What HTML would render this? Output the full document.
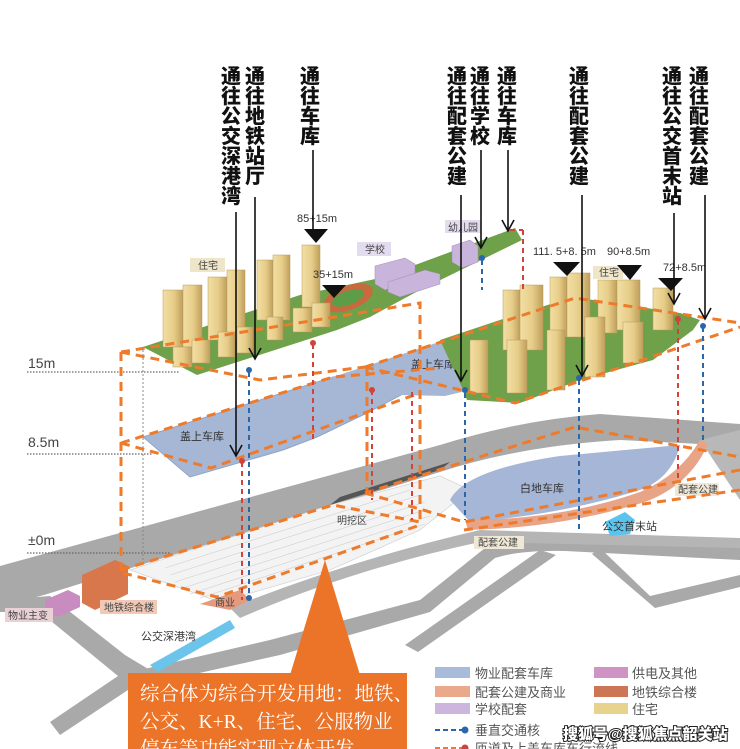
<!DOCTYPE html>
<html><head><meta charset="utf-8"><style>
html,body{margin:0;padding:0;background:#fff;}
svg{display:block;}
.v{font-family:"Liberation Sans","Noto Sans CJK SC",sans-serif;font-weight:900;font-size:20px;fill:#111;}
.s{font-family:"Liberation Sans","Noto Sans CJK SC",sans-serif;font-size:10px;fill:#444;}
.n{font-family:"Liberation Sans","Noto Sans CJK SC",sans-serif;font-size:11px;fill:#333;}
.lg{font-family:"Liberation Sans","Noto Sans CJK SC",sans-serif;font-size:13px;fill:#555;}
.od{stroke:#ee7a2a;stroke-width:3;stroke-dasharray:9 6;fill:none;}
.rd{stroke:#d0423a;stroke-width:2;stroke-dasharray:5 4;fill:none;}
.bd{stroke:#2a66a8;stroke-width:2;stroke-dasharray:5 4;fill:none;}
.ar{stroke:#111;stroke-width:1.6;fill:none;}
.t rect{fill:url(#tw);stroke:#b8985a;stroke-width:.5;}
</style></head><body>
<svg width="740" height="749" viewBox="0 0 740 749" xmlns="http://www.w3.org/2000/svg">
<defs>
<linearGradient id="tw" x1="0" x2="1" y1="0" y2="0"><stop offset="0" stop-color="#f2dfa4"/><stop offset=".55" stop-color="#e6cc88"/><stop offset="1" stop-color="#bf9f5c"/></linearGradient>
</defs>
<rect width="740" height="749" fill="#fff"/>

<!-- roads -->
<path d="M0,566 L440,445 Q520,420 600,414 L740,424 L740,446 L620,440 Q520,446 440,472 L60,590 Q30,600 0,605 Z" fill="#a9a9a9"/>
<path d="M0,600 L50,596 L125,655 L150,670 L140,682 L60,735 L50,722 L118,676 L40,612 L0,612 Z" fill="#a9a9a9"/>
<path d="M140,670 L270,640 L420,600 L485,548 Q520,535 560,536 L740,545 L740,560 L565,551 Q520,550 495,558 L430,612 L280,655 L150,684 Z" fill="#a9a9a9"/>
<path d="M230,608 Q350,560 480,530 L740,538 L740,548 L480,542 Q350,570 240,618 Z" fill="#b5b5b5"/>
<path d="M405,645 L540,550 L556,555 L418,652 Z" fill="#a9a9a9"/>
<path d="M600,548 L650,596 L740,575 L740,587 L655,608 L592,554 Z" fill="#a9a9a9"/>
<path d="M700,440 L740,430 L740,500 L720,470 Z" fill="#b8b8b8"/>

<!-- rail yard -->
<path d="M130,570 L330,505 L440,476 L470,490 L420,530 L330,570 L220,602 Z" fill="#f3f3f3" stroke="#ccc" stroke-width=".6"/>
<g stroke="#cfcfcf" stroke-width=".6">
<line x1="170" y1="575" x2="420" y2="495"/><line x1="175" y1="582" x2="425" y2="502"/><line x1="180" y1="589" x2="428" y2="509"/><line x1="190" y1="594" x2="430" y2="516"/><line x1="200" y1="598" x2="425" y2="524"/><line x1="165" y1="568" x2="410" y2="490"/>
</g>
<text class="s" x="337" y="524">明挖区</text>
<path d="M330,505 L440,470 L450,462 L340,497 Z" fill="#555"/>

<!-- left buildings -->
<path d="M82,575 L115,560 L128,566 L128,594 L95,610 L82,603 Z" fill="#d8774c"/>
<path d="M45,600 L68,590 L80,596 L80,607 L58,617 L45,611 Z" fill="#c98cc0"/>
<rect x="5" y="608" width="48" height="14" fill="#e9d1d6"/><text class="s" x="8" y="619">物业主变</text>
<rect x="100" y="600" width="57" height="14" fill="#f1c9b6"/><text class="s" x="104" y="611">地铁综合楼</text>
<path d="M200,604 L240,590 L250,600 L230,610 Z" fill="#e59a7d"/><text class="s" x="215" y="606">商业</text>
<path d="M150,665 L230,620 L235,628 L158,672 Z" fill="#6cc4ea"/>
<text class="n" x="141" y="640">公交深港湾</text>

<!-- right lower ground -->
<path d="M450,500 Q465,470 560,456 L680,445 Q672,478 640,490 Q560,515 470,522 Z" fill="#a5b6d6"/>
<path d="M465,520 Q560,520 640,492 Q680,475 700,440 L708,444 Q690,485 645,502 Q560,528 468,530 Z" fill="#e8a487"/>
<text class="n" x="520" y="492">白地车库</text>
<path d="M605,522 L625,512 L635,520 L630,534 L610,536 Z" fill="#5bc4ee"/>
<text class="n" x="602" y="530">公交首末站</text>
<rect x="474" y="536" width="50" height="13" fill="#efe8d6"/><text class="s" x="478" y="546">配套公建</text>
<rect x="675" y="483" width="44" height="13" fill="#efe8d6"/><text class="s" x="678" y="493">配套公建</text>

<!-- 8.5m left blue -->
<path d="M143,437 L333,377 L440,363 L420,385 L367,413 L317,437 L283,450 L190,477 Z" fill="#a6b7d6" stroke="#8fa5c8" stroke-width="1"/>
<text class="n" x="180" y="440">盖上车库</text>
<path d="M330,378 L430,345 L490,325 L470,390 L445,396 L400,395 L370,403 Z" fill="#a6b7d6"/>
<text class="n" x="411" y="368">盖上车库</text>

<!-- left green deck -->
<path d="M143,347 L300,295 L380,278 L515,228 L522,240 L420,290 L370,317 L337,330 L250,358 L197,375 Z" fill="#6fa04a"/>
<ellipse cx="348" cy="298" rx="26" ry="12" fill="#c96a3e" transform="rotate(-20 348 298)"/>
<ellipse cx="348" cy="298" rx="17" ry="7" fill="#5d9d47" transform="rotate(-20 348 298)"/>
<g fill="#c9b4dc" stroke="#9f8bb6" stroke-width=".5">
<path d="M375,266 L405,258 L415,264 L415,280 L385,290 L375,284 Z"/>
<path d="M388,282 L425,270 L440,274 L440,284 L400,297 L388,292 Z"/>
<path d="M452,246 L470,240 L478,246 L478,262 L462,268 L452,262 Z"/>
</g>
<rect x="357" y="242" width="34" height="14" fill="#e3dcef"/><text class="s" x="365" y="253">学校</text>
<rect x="445" y="220" width="36" height="13" fill="#e3dcef"/><text class="s" x="448" y="231">幼儿园</text>

<g class="t">
<rect x="163" y="290" width="20" height="57"/><rect x="183" y="285" width="19" height="62"/>
<rect x="208" y="277" width="19" height="63"/><rect x="227" y="270" width="18" height="70"/>
<rect x="257" y="260" width="16" height="60"/><rect x="273" y="255" width="17" height="65"/>
<rect x="302" y="245" width="18" height="62"/>
<rect x="173" y="347" width="19" height="20"/><rect x="192" y="340" width="18" height="23"/>
<rect x="218" y="332" width="17" height="25"/><rect x="237" y="327" width="16" height="26"/>
<rect x="267" y="317" width="16" height="23"/><rect x="293" y="308" width="19" height="24"/><rect x="312" y="303" width="18" height="24"/>
</g>
<rect x="190" y="258" width="35" height="14" fill="#efe5c9"/><text class="s" x="198" y="269">住宅</text>

<path d="M440,340 L500,320 L573,297 L680,313 L700,320 L693,330 L653,360 L580,380 L520,403 L467,400 L460,383 Z" fill="#6fa04a"/>
<g class="t">
<rect x="503" y="290" width="17" height="60"/><rect x="520" y="285" width="23" height="65"/>
<rect x="550" y="277" width="17" height="60"/><rect x="567" y="273" width="23" height="64"/>
<rect x="598" y="280" width="19" height="53"/><rect x="617" y="280" width="23" height="50"/>
<rect x="653" y="288" width="20" height="42"/>
<rect x="470" y="340" width="18" height="53"/><rect x="507" y="340" width="20" height="53"/>
<rect x="547" y="330" width="18" height="60"/><rect x="585" y="317" width="20" height="60"/><rect x="623" y="322" width="20" height="41"/>
</g>
<rect x="593" y="266" width="30" height="13" fill="#efe5c9"/><text class="s" x="599" y="276">住宅</text>

<text class="n" x="297" y="222">85+15m</text>
<text class="n" x="313" y="278">35+15m</text>
<text class="n" x="533" y="255">111. 5+8. 5m</text>
<text class="n" x="607" y="255">90+8.5m</text>
<text class="n" x="663" y="271">72+8.5m</text>
<path d="M304,229 L328,229 L316,243 Z" fill="#111"/>
<path d="M322,285 L346,285 L334,298 Z" fill="#111"/>
<path d="M553,262 L580,262 L567,276 Z" fill="#111"/>
<path d="M617,265 L642,265 L630,280 Z" fill="#111"/>
<path d="M658,278 L683,278 L671,291 Z" fill="#111"/>

<g font-family="Liberation Sans, sans-serif" font-size="14" fill="#444">
<text x="28" y="368">15m</text><text x="28" y="447">8.5m</text><text x="28" y="545">±0m</text></g>
<g stroke="#666" stroke-width="1.2" stroke-dasharray="1.5 1.5">
<line x1="27" y1="372" x2="180" y2="372"/><line x1="27" y1="454" x2="152" y2="454"/><line x1="27" y1="553" x2="170" y2="553"/></g>
<line x1="143" y1="350" x2="143" y2="560" stroke="#888" stroke-dasharray="2 2"/>

<g class="od">
<line x1="121" y1="352" x2="121" y2="578"/>
<path d="M121,352 L420,303 L420,525"/>
<path d="M121,352 L260,380 L365,367"/>
<path d="M121,443 L211,468 L420,393"/>
<path d="M121,443 L333,377 L440,368"/>
<path d="M121,570 L333,505 L420,522"/>
<path d="M123,573 L217,597 L420,525"/>
<path d="M365,367 L575,298 L740,323"/>
<path d="M365,367 L515,403 L740,327"/>
<line x1="367" y1="367" x2="367" y2="495"/>
<path d="M365,493 L575,427 L740,457"/>
<path d="M365,493 L464,522 L740,470"/>
<path d="M464,530 L740,490"/>
</g>

<g class="rd">
<line x1="242" y1="462" x2="242" y2="600"/><line x1="313" y1="344" x2="313" y2="440"/>
<line x1="372" y1="390" x2="372" y2="500"/><line x1="412" y1="392" x2="412" y2="520"/>
<line x1="523" y1="230" x2="523" y2="290"/><line x1="678" y1="320" x2="678" y2="480"/>
<path d="M510,230 L523,230"/>
</g>
<g class="bd">
<line x1="249" y1="372" x2="249" y2="600"/><line x1="482" y1="260" x2="482" y2="290"/>
<line x1="465" y1="393" x2="465" y2="520"/><line x1="579" y1="380" x2="579" y2="530"/>
<line x1="703" y1="327" x2="703" y2="440"/>
</g>
<g fill="#2a66a8"><circle cx="249" cy="370" r="3"/><circle cx="482" cy="258" r="3"/><circle cx="465" cy="390" r="3"/><circle cx="579" cy="378" r="3"/><circle cx="703" cy="326" r="3"/><circle cx="249" cy="598" r="3"/></g>
<g fill="#d0423a"><circle cx="242" cy="461" r="3"/><circle cx="313" cy="343" r="3"/><circle cx="678" cy="319" r="3"/><circle cx="372" cy="390" r="3"/></g>

<g class="ar">
<line x1="236" y1="212" x2="236" y2="455"/><path d="M230,445 L236,456 L242,445"/>
<line x1="255" y1="197" x2="255" y2="358"/><path d="M249,348 L255,359 L261,348"/>
<line x1="313" y1="150" x2="313" y2="232"/>
<line x1="461" y1="195" x2="461" y2="380"/><path d="M455,370 L461,381 L467,370"/>
<line x1="481" y1="150" x2="481" y2="247"/><path d="M475,237 L481,248 L487,237"/>
<line x1="508" y1="150" x2="508" y2="230"/><path d="M502,220 L508,231 L514,220"/>
<line x1="582" y1="195" x2="582" y2="375"/><path d="M576,365 L582,376 L588,365"/>
<line x1="674" y1="213" x2="674" y2="303"/><path d="M668,293 L674,304 L680,293"/>
<line x1="705" y1="195" x2="705" y2="318"/><path d="M699,308 L705,319 L711,308"/>
</g>

<g class="v">
<text x="221" y="83"><tspan x="221">通</tspan><tspan x="221" dy="20">往</tspan><tspan x="221" dy="20">公</tspan><tspan x="221" dy="20">交</tspan><tspan x="221" dy="20">深</tspan><tspan x="221" dy="20">港</tspan><tspan x="221" dy="20">湾</tspan></text>
<text x="245" y="83"><tspan x="245">通</tspan><tspan x="245" dy="20">往</tspan><tspan x="245" dy="20">地</tspan><tspan x="245" dy="20">铁</tspan><tspan x="245" dy="20">站</tspan><tspan x="245" dy="20">厅</tspan></text>
<text x="300" y="83"><tspan x="300">通</tspan><tspan x="300" dy="20">往</tspan><tspan x="300" dy="20">车</tspan><tspan x="300" dy="20">库</tspan></text>
<text x="447" y="83"><tspan x="447">通</tspan><tspan x="447" dy="20">往</tspan><tspan x="447" dy="20">配</tspan><tspan x="447" dy="20">套</tspan><tspan x="447" dy="20">公</tspan><tspan x="447" dy="20">建</tspan></text>
<text x="470" y="83"><tspan x="470">通</tspan><tspan x="470" dy="20">往</tspan><tspan x="470" dy="20">学</tspan><tspan x="470" dy="20">校</tspan></text>
<text x="497" y="83"><tspan x="497">通</tspan><tspan x="497" dy="20">往</tspan><tspan x="497" dy="20">车</tspan><tspan x="497" dy="20">库</tspan></text>
<text x="569" y="83"><tspan x="569">通</tspan><tspan x="569" dy="20">往</tspan><tspan x="569" dy="20">配</tspan><tspan x="569" dy="20">套</tspan><tspan x="569" dy="20">公</tspan><tspan x="569" dy="20">建</tspan></text>
<text x="662" y="83"><tspan x="662">通</tspan><tspan x="662" dy="20">往</tspan><tspan x="662" dy="20">公</tspan><tspan x="662" dy="20">交</tspan><tspan x="662" dy="20">首</tspan><tspan x="662" dy="20">末</tspan><tspan x="662" dy="20">站</tspan></text>
<text x="689" y="83"><tspan x="689">通</tspan><tspan x="689" dy="20">往</tspan><tspan x="689" dy="20">配</tspan><tspan x="689" dy="20">套</tspan><tspan x="689" dy="20">公</tspan><tspan x="689" dy="20">建</tspan></text>
</g>

<path d="M290,675 L325,560 L360,675 Z" fill="#ec7428"/>
<rect x="128" y="673" width="279" height="80" fill="#ec7428"/>
<g font-family="Liberation Serif, Noto Serif CJK SC, serif" font-size="19.5" fill="#fff">
<text x="140" y="700">综合体为综合开发用地：地铁、</text>
<text x="140" y="728">公交、K+R、住宅、公服物业</text>
<text x="140" y="755">停车等功能实现立体开发</text>
</g>

<g>
<rect x="435" y="667" width="35" height="11" fill="#a9bbda"/><text class="lg" x="475" y="678">物业配套车库</text>
<rect x="435" y="686" width="35" height="11" fill="#eba98c"/><text class="lg" x="475" y="697">配套公建及商业</text>
<rect x="435" y="703" width="35" height="11" fill="#cdb6de"/><text class="lg" x="475" y="714">学校配套</text>
<line x1="435" y1="730" x2="462" y2="730" stroke="#2a66a8" stroke-width="2" stroke-dasharray="5 3"/><circle cx="465" cy="730" r="3.5" fill="#2a66a8"/><text class="lg" x="475" y="735">垂直交通核</text>
<line x1="435" y1="748" x2="462" y2="748" stroke="#ee7a2a" stroke-width="2" stroke-dasharray="5 3"/><circle cx="465" cy="748" r="3.5" fill="#d0423a"/><text class="lg" x="475" y="753">匝道及上盖车库车行流线</text>
<rect x="594" y="667" width="34" height="11" fill="#cf93c4"/><text class="lg" x="632" y="678">供电及其他</text>
<rect x="594" y="686" width="34" height="11" fill="#cc7655"/><text class="lg" x="632" y="697">地铁综合楼</text>
<rect x="594" y="703" width="34" height="11" fill="#e8d38e"/><text class="lg" x="632" y="714">住宅</text>
</g>
<text x="563" y="739" font-family="Liberation Sans, Noto Sans CJK SC, sans-serif" font-size="15" font-weight="900" fill="#fff" stroke="#222" stroke-width="2" paint-order="stroke">搜狐号@搜狐焦点韶关站</text>
</svg>
</body></html>
